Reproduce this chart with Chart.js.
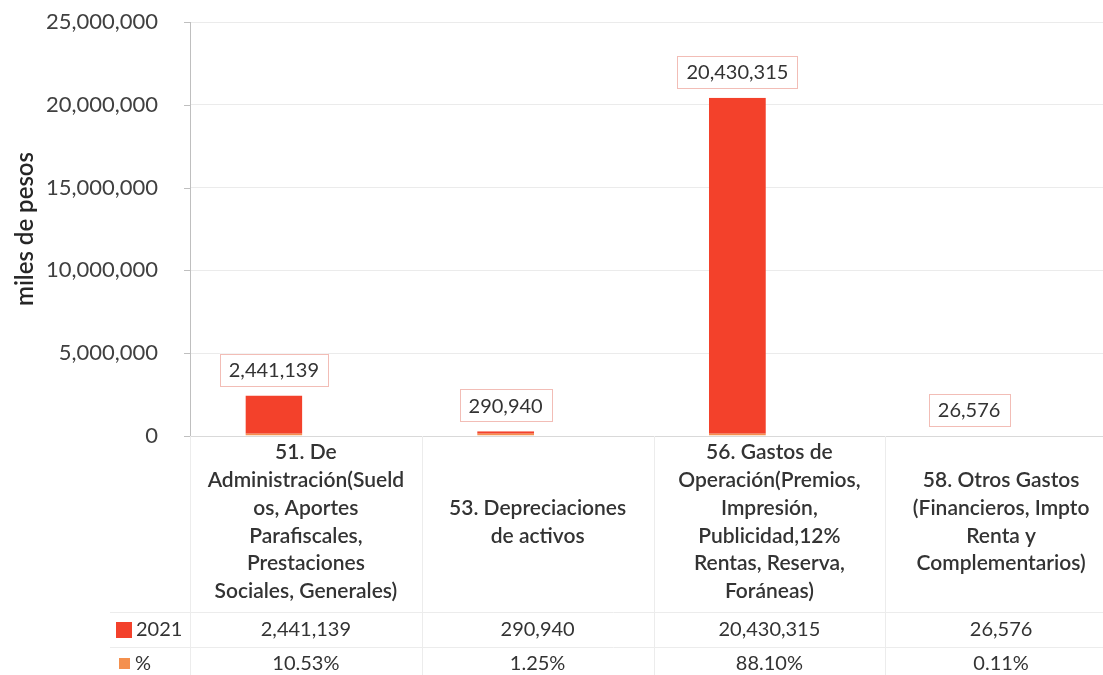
<!DOCTYPE html>
<html>
<head>
<meta charset="utf-8">
<script src="https://cdn.jsdelivr.net/npm/chart.js@4.4.1/dist/chart.umd.min.js"></script>
<style>
  html, body { margin: 0; padding: 0; background: #fff; overflow: hidden; }
  #wrap { width: 1120px; height: 675px; }
</style>
</head>
<body>
<div id="wrap"><canvas id="canvas"></canvas></div>
<script>
// categories (multi-line, padded so they sit centred like the original)
var categories = [
  ["51. De", "Administración(Sueld", "os, Aportes", "Parafiscales,", "Prestaciones", "Sociales, Generales)"],
  ["", "", "53. Depreciaciones", "de activos", "", ""],
  ["56. Gastos de", "Operación(Premios,", "Impresión,", "Publicidad,12%", "Rentas, Reserva,", "Foráneas)"],
  ["", "58. Otros Gastos", "(Financieros, Impto", "Renta y", "Complementarios)", ""]
];
var values2021 = [2441139, 290940, 20430315, 26576];
var percents = [10.53, 1.25, 88.10, 0.11];
var yTicks = [0, 5000000, 10000000, 15000000, 20000000, 25000000];

var RED = "#f3412b";
var ORANGE = "#f4904e";
var FONT = "Lato, 'Open Sans', sans-serif";

function fmt(n) {
  return n.toLocaleString("en-US");
}

// data labels, short y tick marks and the data table under the axis
var tablePlugin = {
  id: "tablePlugin",
  afterDraw: function(chart) {
    var ctx = chart.ctx;
    var x = chart.scales.x;
    var y = chart.scales.y;
    var area = chart.chartArea;
    var meta = chart.getDatasetMeta(0);

    ctx.save();
    // small tick marks left of the y axis
    ctx.strokeStyle = "#bfbfbf";
    ctx.lineWidth = 1;
    yTicks.forEach(function(v) {
      var ty = Math.round(y.getPixelForValue(v)) + 0.5;
      ctx.beginPath();
      ctx.moveTo(area.left - 6, ty);
      ctx.lineTo(area.left, ty);
      ctx.stroke();
    });

    // labels above bars
    ctx.font = "20px " + FONT;
    ctx.textAlign = "center";
    ctx.textBaseline = "middle";
    meta.data.forEach(function(bar, i) {
      var txt = fmt(values2021[i]);
      var w = ctx.measureText(txt).width + 18;
      var h = 32;
      var top = bar.y - 10 - h;
      ctx.fillStyle = "#ffffff";
      ctx.fillRect(bar.x - w / 2, top, w, h);
      ctx.strokeStyle = "#f2bdb6";
      ctx.lineWidth = 1;
      ctx.strokeRect(Math.round(bar.x - w / 2) + 0.5, Math.round(top) + 0.5, Math.round(w), h);
      ctx.fillStyle = "#333333";
      ctx.fillText(txt, bar.x, top + h / 2 + 1);
    });

    // table grid lines
    var half = (x.getPixelForValue(1) - x.getPixelForValue(0)) / 2;
    ctx.strokeStyle = "#ececec";
    ctx.lineWidth = 1;
    for (var i = 0; i <= categories.length; i++) {
      var bx = Math.round(x.getPixelForValue(0) - half + i * 2 * half) + 0.5;
      ctx.beginPath();
      ctx.moveTo(bx, area.bottom);
      ctx.lineTo(bx, 675);
      ctx.stroke();
    }
    [612, 647].forEach(function(ly) {
      ctx.beginPath();
      ctx.moveTo(110, ly + 0.5);
      ctx.lineTo(area.right, ly + 0.5);
      ctx.stroke();
    });

    // table rows
    var row1 = 630, row2 = 664;
    ctx.fillStyle = "#333333";
    ctx.font = "20px " + FONT;
    for (var j = 0; j < categories.length; j++) {
      var cx = x.getPixelForValue(j);
      ctx.fillText(fmt(values2021[j]), cx, row1);
      ctx.fillText(percents[j].toFixed(2) + "%", cx, row2);
    }
    // series keys
    ctx.fillStyle = RED;
    ctx.fillRect(116, row1 - 8, 16, 16);
    ctx.fillStyle = ORANGE;
    ctx.fillRect(119, row2 - 6, 11, 11);
    ctx.fillStyle = "#333333";
    ctx.textAlign = "left";
    ctx.fillText("2021", 136, row1);
    ctx.fillText("%", 135, row2);
    ctx.restore();
  }
};

var config = {
  type: "bar",
  data: {
    labels: categories,
    datasets: [{
      label: "2021",
      data: values2021,
      backgroundColor: RED,
      borderColor: ORANGE,
      borderWidth: { top: 0, left: 0, right: 0, bottom: 2 },
      borderSkipped: false,
      categoryPercentage: 0.552,
      barPercentage: 0.89
    }, {
      // % series: ~0 height on this scale, just like the original
      label: "%",
      data: percents,
      backgroundColor: "rgba(244,144,78,0)",
      borderWidth: 0,
      categoryPercentage: 0.552,
      barPercentage: 0.89
    }]
  },
  options: {
    responsive: true,
    maintainAspectRatio: false,
    animation: false,
    layout: { padding: { top: 22, right: 3, bottom: 0, left: 0 } },
    plugins: {
      legend: { display: false },
      tooltip: { enabled: false },
      title: { display: false }
    },
    scales: {
      x: {
        grid: { display: false, drawTicks: false },
        border: { display: true, color: "#d9d9d9" },
        ticks: {
          color: "#333333",
          font: { family: FONT, size: 21, weight: "600", lineHeight: 1.33 },
          padding: 2,
          maxRotation: 0,
          autoSkip: false
        },
        afterFit: function(scale) { scale.height = 239; }
      },
      y: {
        min: 0,
        max: 25000000,
        afterBuildTicks: function(scale) {
          scale.ticks = yTicks.map(function(v) { return { value: v }; });
        },
        // long invisible ticks keep the labels away from the axis
        grid: { color: "#ebebeb", tickColor: "rgba(0,0,0,0)", tickLength: 32 },
        border: { display: true, color: "#bfbfbf" },
        ticks: {
          color: "#404040",
          font: { family: FONT, size: 22 },
          padding: 0,
          callback: function(v) { return fmt(v); }
        },
        title: {
          display: true,
          text: "miles de pesos",
          color: "#262626",
          font: { family: FONT, size: 24, weight: "600" },
          padding: { top: 11, bottom: 0 }
        },
        afterFit: function(scale) { scale.width = 190; }
      }
    }
  },
  plugins: [tablePlugin]
};

var ctx = document.getElementById("canvas");
window.myChart = new Chart(ctx, config);
</script>
</body>
</html>
